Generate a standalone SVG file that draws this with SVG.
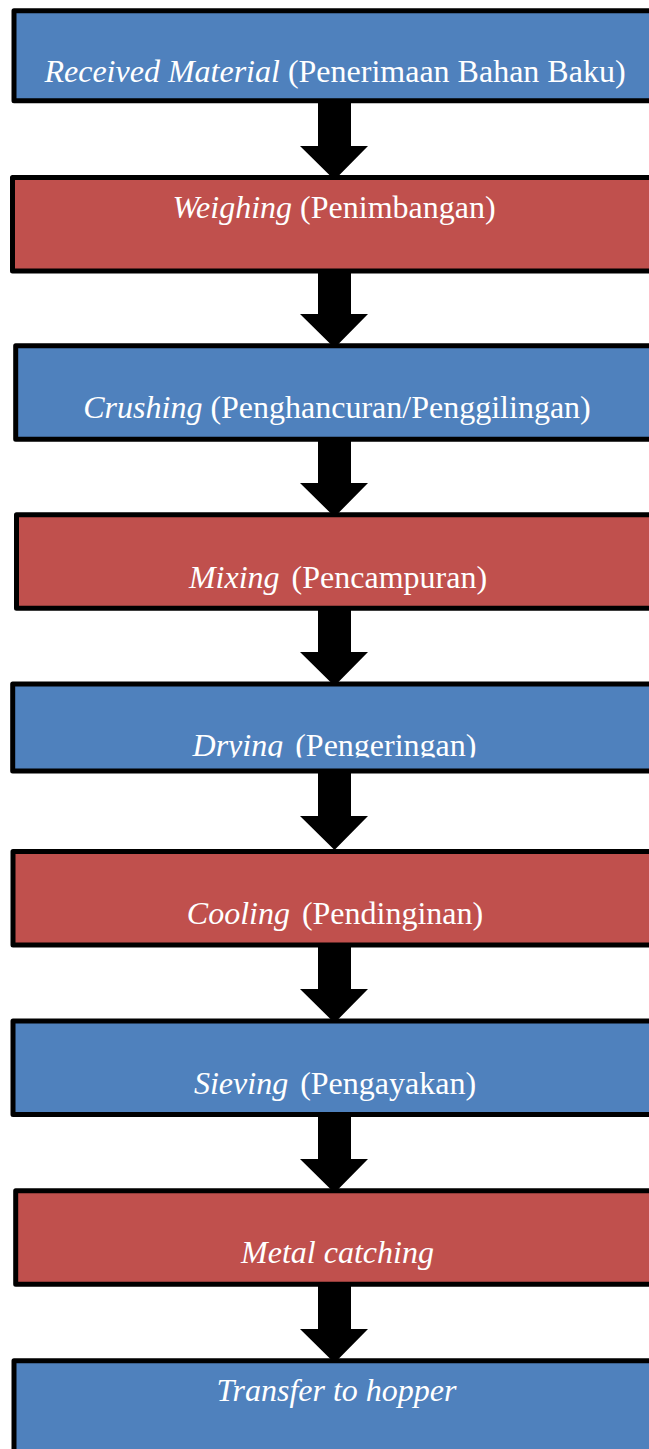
<svg xmlns="http://www.w3.org/2000/svg" width="649" height="1449" viewBox="0 0 649 1449">
<style>
.box{stroke:#000;stroke-width:5;stroke-linejoin:round}
.blue{fill:#4F81BD}
.red{fill:#C0504D}
.lbl{font-family:"Liberation Serif","Times New Roman",serif;font-size:32px;fill:#fff;text-anchor:middle}
.it{font-style:italic}
.arr{fill:#000}
</style>
<defs>
<clipPath id="clipDry"><rect x="0" y="684" width="649" height="73.5"/></clipPath>
</defs>
<rect width="649" height="1449" fill="#fff"/>
<g id="n1"><rect class="box blue" x="14" y="10.8" width="700" height="90"/><text class="lbl" x="335" y="82"><tspan class="it">Received Material</tspan> (Penerimaan Bahan Baku)</text></g>
<g id="n2"><rect class="box red" x="12.5" y="177.5" width="700" height="93.5"/><text class="lbl" x="334" y="218"><tspan class="it">Weighing</tspan> (Penimbangan)</text></g>
<g id="n3"><rect class="box blue" x="15.7" y="345.7" width="700" height="93.6"/><text class="lbl" x="337" y="418"><tspan class="it">Crushing</tspan> (Penghancuran/Penggilingan)</text></g>
<g id="n4"><rect class="box red" x="16.5" y="514.8" width="700" height="93.5"/><text class="lbl" x="338" y="588"><tspan class="it">Mixing</tspan><tspan dx="12">(Pencampuran)</tspan></text></g>
<g id="n5"><rect class="box blue" x="12.7" y="684" width="700" height="87"/><text class="lbl" x="334.5" y="756" clip-path="url(#clipDry)"><tspan class="it">Drying</tspan><tspan dx="12">(Pengeringan)</tspan></text></g>
<g id="n6"><rect class="box red" x="13" y="851.5" width="700" height="93.5"/><text class="lbl" x="335" y="924"><tspan class="it">Cooling</tspan><tspan dx="12">(Pendinginan)</tspan></text></g>
<g id="n7"><rect class="box blue" x="13" y="1021" width="700" height="93.5"/><text class="lbl" x="335" y="1094"><tspan class="it">Sieving</tspan><tspan dx="12">(Pengayakan)</tspan></text></g>
<g id="n8"><rect class="box red" x="15.7" y="1190.7" width="700" height="93.5"/><text class="lbl it" x="337.5" y="1263">Metal catching</text></g>
<g id="n9"><rect class="box blue" x="14" y="1360.8" width="700" height="200"/><text class="lbl it" x="336.5" y="1401">Transfer to hopper</text></g>
<g id="connectors">
<polygon class="arr" points="318,101 351,101 351,146 368,146 334.5,180 300,146 318,146"/>
<polygon class="arr" points="318,271 351,271 351,314 368,314 334.5,348 300,314 318,314"/>
<polygon class="arr" points="318,439 351,439 351,483 368,483 334.5,517 300,483 318,483"/>
<polygon class="arr" points="318,608 351,608 351,652 368,652 334.5,686 300,652 318,652"/>
<polygon class="arr" points="318,771 351,771 351,816 368,816 334.5,850 300,816 318,816"/>
<polygon class="arr" points="318,945 351,945 351,989 368,989 334.5,1023 300,989 318,989"/>
<polygon class="arr" points="318,1114 351,1114 351,1159 368,1159 334.5,1193 300,1159 318,1159"/>
<polygon class="arr" points="318,1284 351,1284 351,1329 368,1329 334.5,1363 300,1329 318,1329"/>
</g>
</svg>
